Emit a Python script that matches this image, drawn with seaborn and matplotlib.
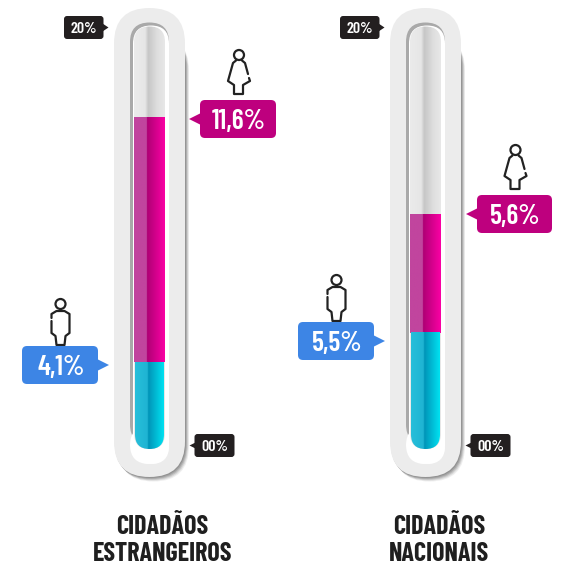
import numpy as np
import pandas as pd
import seaborn as sns
import matplotlib
matplotlib.use("Agg")
import matplotlib.pyplot as plt
from matplotlib.patches import FancyBboxPatch, Polygon, Rectangle, Circle, PathPatch
from matplotlib.path import Path
from matplotlib.transforms import Affine2D
from matplotlib.colors import LinearSegmentedColormap

categories = ["CIDADÃOS\nESTRANGEIROS", "CIDADÃOS\nNACIONAIS"]
men = [4.1, 5.5]
women = [11.6, 5.6]
men_labels = ["4,1%", "5,5%"]
women_labels = ["11,6%", "5,6%"]
scale_top = "20%"
scale_bottom = "00%"

W, H = 581, 572
sns.set_theme(style="white")
FONT_NUM = ["Barlow Condensed", "Roboto"]
FONT_CAT = ["Barlow Condensed", "Roboto"]
fig = plt.figure(figsize=(W / 100, H / 100), dpi=100)
ax = fig.add_axes([0, 0, 1, 1])
PX = Affine2D().scale(1, -1).translate(0, H)  # reference pixels -> display

Y0 = 449
PPU = 21.1
CX = [149.5, 425.5]
BW = 31 / 276


def set_limits():
    ax.set_xlim((0 - CX[0]) / 276, (W - CX[0]) / 276)
    ax.set_ylim((Y0 - H) / PPU, Y0 / PPU)


df = pd.DataFrame({"cat": categories, "men": men, "women": women})
sns.barplot(data=df, x="cat", y="women", bottom=df["men"], color="#E5007E", width=BW, ax=ax,
            saturation=1, zorder=5)
n_pink = len(ax.patches)
sns.barplot(data=df, x="cat", y="men", color="#00BCD8", width=BW, ax=ax, saturation=1, zorder=6)
bar_rects = list(ax.patches)
set_limits()
ax.set_axis_off()


def capsule(cx, half, top, bottom):
    r = half
    return FancyBboxPatch((cx - half + r, top + r), 2 * half - 2 * r, bottom - top - 2 * r,
                          boxstyle=f"round,pad={r},rounding_size={r}", transform=PX)


def ramp(stops):
    return LinearSegmentedColormap.from_list("r", stops)


grad = np.linspace(0, 1, 128)[None, :]
empty_cm = ramp([(0, "#EBEBEB"), (0.36, "#E6E6E6"), (0.46, "#C6C6C6"), (0.75, "#DEDEDE"), (1, "#E8E8E8")])
pink_cm = ramp([(0, "#C1459E"), (0.41, "#C1459E"), (0.42, "#AE0074"), (1, "#FA00A4")])
cyan_cm = ramp([(0, "#27BFDA"), (0.41, "#1FB4D3"), (0.45, "#0094B8"), (1, "#00E6F5")])

for i, cx in enumerate(CX):
    # soft shadow of the glass body, right and below
    for off, a in [(5, .12), (4, .18), (3, .26), (2, .34), (1, .42)]:
        s = capsule(cx + off * .8, 35.5, 30 + off, 477 + off * .9)
        s.set(fc="#777777", ec="none", alpha=a, zorder=1)
        ax.add_patch(s)
    o = capsule(cx, 35.5, 8, 477)
    o.set(fc="#ECECEC", ec="none", zorder=2)
    ax.add_patch(o)
    # dark inner edge, top and left only
    g = capsule(cx, 19.5, 22.5, 444)
    g.set(fc="#A9A9A9", ec="none", zorder=3)
    ax.add_patch(g)
    w1 = capsule(cx + 1.5, 18, 25.5, 464)
    w1.set(fc="#FFFFFF", ec="none", zorder=3)
    ax.add_patch(w1)
    w2 = capsule(cx, 19.5, 426, 464)
    w2.set(fc="#FFFFFF", ec="none", zorder=3)
    ax.add_patch(w2)
    # empty tube
    inner = capsule(cx, 15.5, 26.5, 449)
    inner.set(fc="none", ec="none")
    ax.add_patch(inner)
    ex0 = ax.transData.inverted().transform((cx - 15.5, 0))[0]
    ex1 = ax.transData.inverted().transform((cx + 15.5, 0))[0]
    im = ax.imshow(grad, cmap=empty_cm, aspect="auto", zorder=4, extent=[ex0, ex1, 0, 20.5])
    im.set_clip_path(inner)
set_limits()

for k, b in enumerate(bar_rects):
    x0, y0, wd, ht = b.get_x(), b.get_y(), b.get_width(), b.get_height()
    is_cyan = k >= n_pink
    i = int(round(x0 + wd / 2))
    cm = cyan_cm if is_cyan else pink_cm
    if is_cyan:
        x0, wd = x0 + 0.003, wd - 0.006
    im = ax.imshow(grad, cmap=cm, aspect="auto", zorder=7 + is_cyan, extent=[x0, x0 + wd, y0, y0 + ht])
    clip = capsule(CX[i], 14.5 if is_cyan else 15.5, 26.5, 449)
    clip.set(fc="none", ec="none")
    ax.add_patch(clip)
    im.set_clip_path(clip)
    b.set_visible(False)
set_limits()


def bubble(x0, y0, x1, y1, tip, color, text, fs, r=5):
    b = FancyBboxPatch((x0 + r, y0 + r), x1 - x0 - 2 * r, y1 - y0 - 2 * r,
                       boxstyle=f"round,pad={r},rounding_size={r}", fc=color, ec="none",
                       transform=PX, zorder=10)
    ax.add_patch(b)
    ym = tip[1]
    edge = x1 - 1 if tip[0] > x1 else x0 + 1
    ax.add_patch(Polygon([(edge, ym - tip[2]), tip[:2], (edge, ym + tip[2])], fc=color, ec="none",
                         transform=PX, zorder=10))
    ax.text((x0 + x1) / 2 + (1 if fs > 15 else 0), (y0 + y1) / 2, text, color="white", fontsize=fs,
            family=FONT_NUM, fontweight=600, ha="center", va="center_baseline", transform=PX, zorder=11)


def person(cx, top, female):
    kw = dict(fc="none", ec="#222222", lw=1.6, transform=PX, zorder=9, capstyle="round", joinstyle="round")
    ax.add_patch(Circle((cx, top + 5), 5, **kw))
    if female:
        pts = [(-3, 10.5), (-6, 13), (-11, 31), (-5, 35), (-5, 44), (4, 44), (4, 35), (11, 31), (10, 28)]
        pts2 = [(9, 24), (6, 13), (3, 10.5)]
    else:
        pts = [(-9, 22), (-9, 34), (-5, 37), (-4, 46), (4, 46), (5, 37), (9, 34), (9, 15),
               (4, 12), (-4, 12), (-9, 15), (-9, 19)]
        pts2 = None
    ax.add_patch(PathPatch(Path([(cx + a, top + b) for a, b in pts]), **kw))
    if pts2:
        ax.add_patch(PathPatch(Path([(cx + a, top + b) for a, b in pts2]), **kw))


BLUE, MAG, DARK = "#3D85E5", "#BE007E", "#231F20"
men_box = [(22, 346, 98, 384), (298, 322, 374, 360)]
wom_box = [(200, 100, 276, 138), (477, 195, 552, 233)]
cat_x = [162.5, 439]
for i, cx in enumerate(CX):
    x0, y0, x1, y1 = men_box[i]
    bubble(x0, y0, x1, y1, (x1 + 11, (y0 + y1) / 2, 6), BLUE, men_labels[i], 20)
    person((x0 + x1) / 2 + 0.5, y0 - 47, False)
    x0, y0, x1, y1 = wom_box[i]
    bubble(x0, y0, x1, y1, (x0 - 11, (y0 + y1) / 2, 6), MAG, women_labels[i], 20)
    person((x0 + x1) / 2 + 1, y0 - 50, True)
    bubble(cx - 85.5, 16, cx - 46, 39, (cx - 41, 27.5, 4), DARK, scale_top, 11.5, r=3)
    bubble(cx + 45, 434, cx + 85, 457, (cx + 40, 445.5, 3), DARK, scale_bottom, 11.5, r=3)
    ax.text(cat_x[i], 540.5, categories[i], ha="center", va="center", transform=PX, family=FONT_CAT,
            fontweight=700, fontsize=18.8, color="#1F1F1F", linespacing=1.2, zorder=11)

fig.savefig("out.png", dpi=100, facecolor="white")
